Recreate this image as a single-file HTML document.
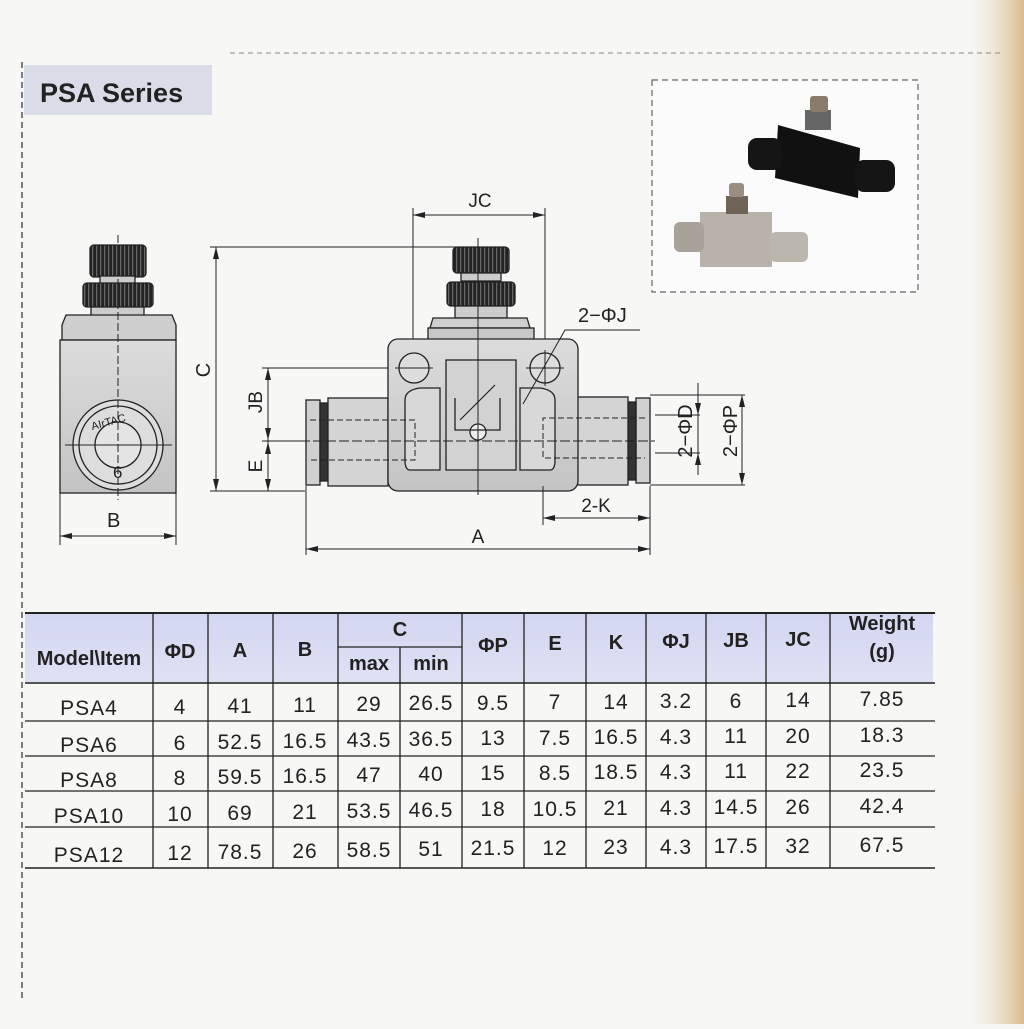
<!DOCTYPE html>
<html><head><meta charset="utf-8"><style>
body{margin:0;width:1024px;height:1024px;overflow:hidden;background:#f7f7f5;font-family:"Liberation Sans",sans-serif}
</style></head><body>
<svg width="1024" height="1024" viewBox="0 0 1024 1024" xmlns="http://www.w3.org/2000/svg" font-family="Liberation Sans, sans-serif">
<defs>
<linearGradient id="edge" x1="0" x2="1"><stop offset="0" stop-color="#f7f7f5" stop-opacity="0"/><stop offset="1" stop-color="#d9b98a"/></linearGradient>
<linearGradient id="edge2" x1="0" x2="1"><stop offset="0" stop-color="#f7f7f5" stop-opacity="0"/><stop offset="1" stop-color="#b07a40"/></linearGradient>
<linearGradient id="hd" x1="0" y1="0" x2="0" y2="1"><stop offset="0" stop-color="#d2d6f0"/><stop offset="1" stop-color="#dfe2f4"/></linearGradient>
<linearGradient id="met" x1="0" y1="0" x2="0" y2="1"><stop offset="0" stop-color="#dcdcdc"/><stop offset="1" stop-color="#c4c4c4"/></linearGradient>
<pattern id="knurl" width="4" height="10" patternUnits="userSpaceOnUse"><rect width="4" height="10" fill="#222"/><rect width="1.3" height="10" fill="#666"/></pattern>
</defs>
<rect x="960" y="0" width="64" height="1024" fill="url(#edge)"/>
<ellipse cx="1030" cy="690" rx="50" ry="110" fill="url(#edge2)" opacity="0.7"/>
<line x1="22" y1="62" x2="22" y2="1000" stroke="#555" stroke-width="1.5" stroke-dasharray="6,4"/>
<line x1="230" y1="53" x2="1000" y2="53" stroke="#888" stroke-width="1" stroke-dasharray="5,4"/>
<rect x="24" y="65" width="188" height="50" fill="#dadde8"/>
<text x="40" y="102" font-size="27" font-weight="bold" fill="#222">PSA Series</text>
<rect x="652" y="80" width="266" height="212" fill="#fbfbfb" stroke="#666" stroke-width="1.2" stroke-dasharray="6,4"/>
<g>
<path d="M778 125 L860 148 L858 198 L775 178 Z" fill="#111"/>
<rect x="748" y="138" width="34" height="32" rx="9" fill="#151515"/>
<rect x="855" y="160" width="40" height="32" rx="9" fill="#151515"/>
<rect x="805" y="110" width="26" height="20" fill="#666"/>
<rect x="810" y="96" width="18" height="16" rx="3" fill="#8a7a6a"/>
<rect x="700" y="212" width="72" height="55" fill="#b8b2aa"/>
<rect x="674" y="222" width="30" height="30" rx="6" fill="#a8a29a"/>
<rect x="770" y="232" width="38" height="30" rx="6" fill="#bbb6ae"/>
<rect x="726" y="196" width="22" height="18" fill="#6e6458"/>
<rect x="729" y="183" width="15" height="14" rx="3" fill="#9a8e80"/>
</g>
<g stroke="#222" stroke-width="1.3">
<rect x="90" y="245" width="56" height="32" rx="4" fill="url(#knurl)"/>
<rect x="100" y="276" width="35" height="8" fill="#ccc"/>
<rect x="83" y="283" width="70" height="24" rx="4" fill="url(#knurl)"/>
<rect x="91" y="307" width="53" height="10" fill="#ccc"/>
<path d="M66 315 H172 L176 325 V340 H62 V325 Z" fill="#cfcfcf"/>
<rect x="60" y="340" width="116" height="153" fill="url(#met)"/>
<circle cx="118" cy="445" r="45" fill="#ddd"/>
<circle cx="118" cy="445" r="39" fill="none"/>
<circle cx="118" cy="445" r="23" fill="#e4e4e4"/>
</g>
<text x="92" y="428" font-size="11" fill="#222" transform="rotate(-15 100 428)">AIrTAC</text>
<text x="113" y="478" font-size="17" fill="#222">6</text>
<line x1="118" y1="235" x2="118" y2="500" stroke="#222" stroke-dasharray="8,3" stroke-width="1"/>
<line x1="65" y1="445" x2="172" y2="445" stroke="#222" stroke-width="1"/>
<line x1="60" y1="493" x2="60" y2="545" stroke="#222"/><line x1="176" y1="493" x2="176" y2="545" stroke="#222"/>
<line x1="60" y1="536" x2="176" y2="536" stroke="#222"/>
<path d="M60 536 l12 -3 v6z M176 536 l-12 -3 v6z" fill="#222"/>
<text x="107" y="527" font-size="20" fill="#222">B</text>
<line x1="210" y1="247" x2="460" y2="247" stroke="#222"/>
<line x1="210" y1="491" x2="305" y2="491" stroke="#222"/>
<line x1="216" y1="247" x2="216" y2="491" stroke="#222"/>
<path d="M216 247 l-3 12 h6z M216 491 l-3 -12 h6z" fill="#222"/>
<text x="210" y="370" font-size="20" fill="#222" transform="rotate(-90 210 370)" text-anchor="middle">C</text>
<line x1="262" y1="368" x2="418" y2="368" stroke="#222"/>
<line x1="268" y1="368" x2="268" y2="491" stroke="#222"/>
<path d="M268 368 l-3 12 h6z M268 440 l-3 -12 h6z M268 442 l-3 12 h6z M268 491 l-3 -12 h6z" fill="#222"/>
<line x1="262" y1="441" x2="300" y2="441" stroke="#222"/>
<text x="262" y="402" font-size="19" fill="#222" transform="rotate(-90 262 402)" text-anchor="middle">JB</text>
<text x="262" y="466" font-size="19" fill="#222" transform="rotate(-90 262 466)" text-anchor="middle">E</text>
<line x1="413" y1="208" x2="413" y2="360" stroke="#222"/>
<line x1="545" y1="208" x2="545" y2="360" stroke="#222"/>
<line x1="413" y1="215" x2="545" y2="215" stroke="#222"/>
<path d="M413 215 l12 -3 v6z M545 215 l-12 -3 v6z" fill="#222"/>
<text x="480" y="207" font-size="19" fill="#222" text-anchor="middle">JC</text>
<g stroke="#222" stroke-width="1.3">
<rect x="453" y="247" width="56" height="26" rx="4" fill="url(#knurl)"/>
<rect x="461" y="273" width="40" height="8" fill="#ccc"/>
<rect x="447" y="282" width="68" height="24" rx="4" fill="url(#knurl)"/>
<rect x="455" y="306" width="52" height="12" fill="#ccc"/>
<path d="M433 318 H527 L530 328 H430 Z" fill="#cfcfcf"/>
<rect x="428" y="328" width="106" height="12" fill="#c8c8c8"/>
<rect x="306" y="400" width="14" height="85" fill="#d0d0d0"/>
<rect x="320" y="403" width="8" height="78" fill="#333"/>
<rect x="328" y="398" width="60" height="88" fill="#d4d4d4"/>
<rect x="636" y="398" width="14" height="85" fill="#d0d0d0"/>
<rect x="628" y="402" width="8" height="78" fill="#333"/>
<rect x="570" y="397" width="58" height="88" fill="#d4d4d4"/>
<rect x="388" y="339" width="190" height="152" rx="10" fill="url(#met)"/>
<path d="M405 400 Q405 390 420 388 H440 V470 H410 Q405 470 405 460 Z" fill="#d8d8d8"/>
<path d="M555 400 Q555 390 540 388 H520 V470 H550 Q555 470 555 460 Z" fill="#d8d8d8"/>
<rect x="446" y="360" width="70" height="110" fill="#d2d2d2"/>
<circle cx="414" cy="368" r="15" fill="#ddd"/>
<circle cx="545" cy="368" r="15" fill="#ddd"/>
<circle cx="478" cy="432" r="8" fill="#eee"/>
<path d="M455 398 V430 H500 V398" fill="none"/>
</g>
<line x1="478" y1="238" x2="478" y2="495" stroke="#222" stroke-width="1"/>
<line x1="300" y1="441" x2="655" y2="441" stroke="#222" stroke-width="1" stroke-dasharray="10,3"/>
<g stroke="#222" stroke-dasharray="6,3" fill="none"><path d="M310 420 H415 V460 H310"/><path d="M645 418 H543 V458 H645"/></g>
<line x1="395" y1="368" x2="433" y2="368" stroke="#222"/><line x1="526" y1="368" x2="564" y2="368" stroke="#222"/>
<line x1="545" y1="350" x2="545" y2="386" stroke="#222"/>
<line x1="460" y1="420" x2="495" y2="385" stroke="#222" stroke-width="1.2"/>
<path d="M523 404 L565 330 H640" stroke="#222" fill="none"/>
<text x="578" y="322" font-size="20" fill="#222">2−ΦJ</text>
<line x1="650" y1="395" x2="745" y2="395" stroke="#222"/>
<line x1="650" y1="485" x2="745" y2="485" stroke="#222"/>
<line x1="655" y1="415" x2="700" y2="415" stroke="#222"/>
<line x1="655" y1="453" x2="700" y2="453" stroke="#222"/>
<line x1="698" y1="383" x2="698" y2="475" stroke="#222"/>
<line x1="742" y1="395" x2="742" y2="485" stroke="#222"/>
<path d="M742 395 l-3 12 h6z M742 485 l-3 -12 h6z M698 415 l-3 -12 h6z M698 453 l-3 12 h6z" fill="#222"/>
<text x="692" y="431" font-size="20" fill="#222" transform="rotate(-90 692 431)" text-anchor="middle">2−ΦD</text>
<text x="737" y="431" font-size="20" fill="#222" transform="rotate(-90 737 431)" text-anchor="middle">2−ΦP</text>
<line x1="543" y1="486" x2="543" y2="525" stroke="#222"/>
<line x1="650" y1="486" x2="650" y2="555" stroke="#222"/>
<line x1="306" y1="486" x2="306" y2="555" stroke="#222"/>
<line x1="543" y1="518" x2="650" y2="518" stroke="#222"/>
<path d="M543 518 l12 -3 v6z M650 518 l-12 -3 v6z" fill="#222"/>
<text x="596" y="512" font-size="19" fill="#222" text-anchor="middle">2-K</text>
<line x1="306" y1="549" x2="650" y2="549" stroke="#222"/>
<path d="M306 549 l12 -3 v6z M650 549 l-12 -3 v6z" fill="#222"/>
<text x="478" y="543" font-size="19" fill="#222" text-anchor="middle">A</text>
<rect x="25" y="613" width="908" height="70" fill="url(#hd)"/>
<g stroke="#222" stroke-width="1.3">
<line x1="25" y1="613" x2="935" y2="613" stroke-width="2"/>
<line x1="25" y1="683" x2="935" y2="683" stroke-width="1.6"/>
<line x1="338" y1="647" x2="462" y2="647"/>
<line x1="25" y1="721" x2="935" y2="721"/>
<line x1="25" y1="756" x2="935" y2="756"/>
<line x1="25" y1="791" x2="935" y2="791"/>
<line x1="25" y1="827" x2="935" y2="827"/>
<line x1="25" y1="868" x2="935" y2="868" stroke-width="1.6"/>
<line x1="153" y1="613" x2="153" y2="868"/><line x1="208" y1="613" x2="208" y2="868"/>
<line x1="273" y1="613" x2="273" y2="868"/><line x1="338" y1="613" x2="338" y2="868"/>
<line x1="400" y1="647" x2="400" y2="868"/><line x1="462" y1="613" x2="462" y2="868"/>
<line x1="524" y1="613" x2="524" y2="868"/><line x1="586" y1="613" x2="586" y2="868"/>
<line x1="646" y1="613" x2="646" y2="868"/><line x1="706" y1="613" x2="706" y2="868"/>
<line x1="766" y1="613" x2="766" y2="868"/><line x1="830" y1="613" x2="830" y2="868"/>
</g>
<g font-size="20" font-weight="bold" fill="#222" text-anchor="middle">
<text x="89" y="665">Model\Item</text><text x="180" y="658">ΦD</text><text x="240" y="657">A</text><text x="305" y="656">B</text>
<text x="400" y="636">C</text><text x="369" y="670">max</text><text x="431" y="670">min</text>
<text x="493" y="652">ΦP</text><text x="555" y="650">E</text><text x="616" y="649">K</text><text x="676" y="648">ΦJ</text><text x="736" y="647">JB</text><text x="798" y="646">JC</text>
<text x="882" y="630">Weight</text><text x="882" y="658">(g)</text>
</g>
<g font-size="21" fill="#222" text-anchor="middle" letter-spacing="1">
<text x="89" y="715">PSA4</text><text x="180" y="714">4</text><text x="240" y="713">41</text><text x="305" y="712">11</text><text x="369" y="711">29</text><text x="431" y="710">26.5</text><text x="493" y="710">9.5</text><text x="555" y="709">7</text><text x="616" y="709">14</text><text x="676" y="708">3.2</text><text x="736" y="708">6</text><text x="798" y="707">14</text><text x="882" y="706">7.85</text>
<text x="89" y="752">PSA6</text><text x="180" y="750">6</text><text x="240" y="749">52.5</text><text x="305" y="748">16.5</text><text x="369" y="747">43.5</text><text x="431" y="746">36.5</text><text x="493" y="745">13</text><text x="555" y="745">7.5</text><text x="616" y="744">16.5</text><text x="676" y="744">4.3</text><text x="736" y="743">11</text><text x="798" y="743">20</text><text x="882" y="742">18.3</text>
<text x="89" y="787">PSA8</text><text x="180" y="785">8</text><text x="240" y="784">59.5</text><text x="305" y="783">16.5</text><text x="369" y="782">47</text><text x="431" y="781">40</text><text x="493" y="780">15</text><text x="555" y="780">8.5</text><text x="616" y="779">18.5</text><text x="676" y="779">4.3</text><text x="736" y="778">11</text><text x="798" y="778">22</text><text x="882" y="777">23.5</text>
<text x="89" y="823">PSA10</text><text x="180" y="821">10</text><text x="240" y="820">69</text><text x="305" y="819">21</text><text x="369" y="818">53.5</text><text x="431" y="817">46.5</text><text x="493" y="816">18</text><text x="555" y="816">10.5</text><text x="616" y="815">21</text><text x="676" y="815">4.3</text><text x="736" y="814">14.5</text><text x="798" y="814">26</text><text x="882" y="813">42.4</text>
<text x="89" y="862">PSA12</text><text x="180" y="860">12</text><text x="240" y="859">78.5</text><text x="305" y="858">26</text><text x="369" y="857">58.5</text><text x="431" y="856">51</text><text x="493" y="855">21.5</text><text x="555" y="855">12</text><text x="616" y="854">23</text><text x="676" y="854">4.3</text><text x="736" y="853">17.5</text><text x="798" y="853">32</text><text x="882" y="852">67.5</text>
</g>
</svg>
</body></html>
